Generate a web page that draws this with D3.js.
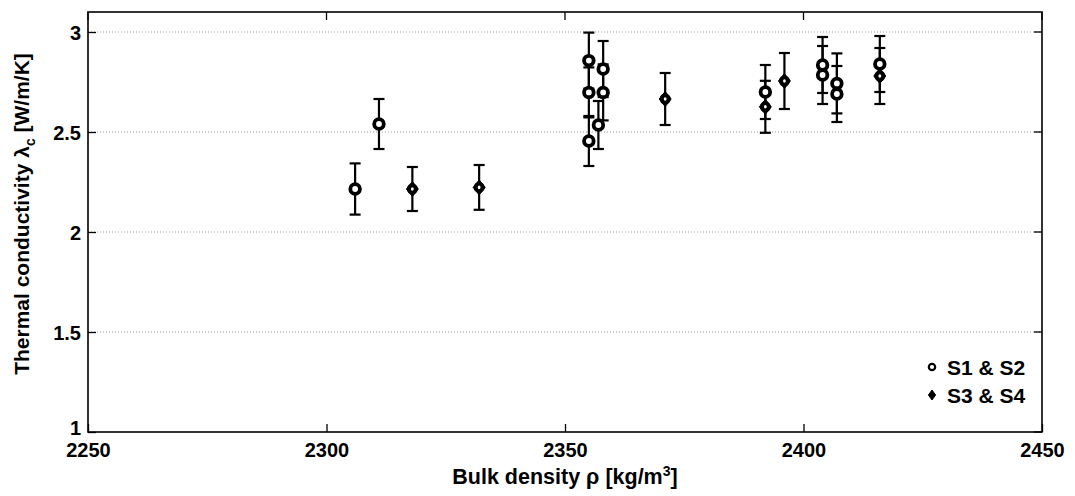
<!DOCTYPE html>
<html><head><meta charset="utf-8">
<script src="https://cdn.jsdelivr.net/npm/d3@7"></script>
<style>
html,body{margin:0;padding:0;background:#fff;}
text{font-family:"Liberation Sans",Arial,sans-serif;font-weight:bold;fill:#000;}
</style></head>
<body><svg id="c" width="1075" height="496"></svg>
<script>
// ---- data ----
const xTicks = [2250, 2300, 2350, 2400, 2450];
const yTicks = [1, 1.5, 2, 2.5, 3];
const yTickLabels = ["1", "1.5", "2", "2.5", "3"];
const gridValues = [1.5, 2, 2.5, 3];
const seriesNames = ["S1 & S2", "S3 & S4"];
const s12X   = [2306, 2311, 2355, 2355, 2355, 2357, 2358, 2358, 2392, 2404, 2404, 2407, 2407, 2416];
const s12Y   = [2.215, 2.54, 2.857, 2.698, 2.455, 2.535, 2.815, 2.698, 2.70, 2.835, 2.785, 2.743, 2.69, 2.84];
const s12Err = [0.128, 0.125, 0.14, 0.125, 0.125, 0.12, 0.14, 0.14, 0.135, 0.14, 0.145, 0.15, 0.14, 0.14];
const s34X   = [2318, 2332, 2371, 2392, 2396, 2416];
const s34Y   = [2.215, 2.223, 2.665, 2.626, 2.755, 2.78];
const s34Err = [0.11, 0.112, 0.13, 0.13, 0.14, 0.14];

const svg = d3.select("#c");
const L = 88, R = 1042, T = 12, B = 432;
const x = d3.scaleLinear().domain([2250, 2450]).range([L, R]);
const y = d3.scaleLinear().domain([1, 3.1]).range([B, T]);

// grid
svg.append("g").selectAll("line").data(gridValues).join("line")
  .attr("x1", L).attr("x2", R).attr("y1", d => y(d)).attr("y2", d => y(d))
  .attr("stroke", "#999").attr("stroke-width", 1).attr("stroke-dasharray", "1,2");

// axes
const xAxis = d3.axisBottom(x).tickValues(xTicks).tickSizeInner(-8).tickSizeOuter(0).tickPadding(14).tickFormat(d3.format("d"));
const gx = svg.append("g").attr("transform", `translate(0,${B})`).call(xAxis);
const yAxis = d3.axisLeft(y).tickValues(yTicks).tickSizeInner(-8).tickSizeOuter(0).tickPadding(7).tickFormat((d,i) => yTickLabels[i]);
const gy = svg.append("g").attr("transform", `translate(${L},0)`).call(yAxis);
[gx, gy].forEach(g => {
  g.select(".domain").remove();
  g.selectAll(".tick line").attr("stroke", "#000").attr("stroke-width", 1.3);
  g.selectAll("text").style("font-size", "20px").style("font-weight", "bold")
   .style("font-family", '"Liberation Sans",Arial,sans-serif').attr("fill", "#000");
});
gx.selectAll(".tick text").attr("dy", "0.55em");
gy.selectAll(".tick text").attr("dy", (d) => d === 1 ? "0.1em" : "0.35em");
// top/right ticks
svg.append("g").selectAll("line").data(xTicks).join("line")
  .attr("x1", d => x(d)).attr("x2", d => x(d)).attr("y1", T).attr("y2", T + 8)
  .attr("stroke", "#000").attr("stroke-width", 1.3);
svg.append("g").selectAll("line").data(yTicks).join("line")
  .attr("x1", R - 8).attr("x2", R).attr("y1", d => y(d)).attr("y2", d => y(d))
  .attr("stroke", "#000").attr("stroke-width", 1.3);
// box
svg.append("rect").attr("x", L).attr("y", T).attr("width", R - L).attr("height", B - T)
  .attr("fill", "none").attr("stroke", "#000").attr("stroke-width", 1.6);

// error bars
function errBars(xs, ys, es) {
  const g = svg.append("g").attr("stroke", "#000").attr("stroke-width", 2.2).attr("fill", "none");
  xs.forEach((xv, i) => {
    const cx = x(xv), y0 = y(ys[i] - es[i]), y1 = y(ys[i] + es[i]);
    g.append("line").attr("x1", cx).attr("x2", cx).attr("y1", y0).attr("y2", y1);
    g.append("line").attr("x1", cx - 5.5).attr("x2", cx + 5.5).attr("y1", y0).attr("y2", y0);
    g.append("line").attr("x1", cx - 5.5).attr("x2", cx + 5.5).attr("y1", y1).attr("y2", y1);
  });
}
errBars(s12X, s12Y, s12Err);
errBars(s34X, s34Y, s34Err);

function circleMark(g, cx, cy, r, sw) {
  g.append("circle").attr("cx", cx).attr("cy", cy).attr("r", r)
    .attr("fill", "#fff").attr("stroke", "#000").attr("stroke-width", sw);
}
function diamondMark(g, cx, cy, hw, hh, hole) {
  g.append("path").attr("d", `M${cx},${cy-hh}L${cx+hw},${cy}L${cx},${cy+hh}L${cx-hw},${cy}Z`)
    .attr("fill", "#000").attr("stroke", "#000").attr("stroke-width", 1);
  if (hole) g.append("ellipse").attr("cx", cx).attr("cy", cy).attr("rx", 1.4).attr("ry", 1.8).attr("fill", "#fff");
}
const gm = svg.append("g");
s12X.forEach((xv, i) => circleMark(gm, x(xv), y(s12Y[i]), 4.8, 3.8));
s34X.forEach((xv, i) => {
  circleMark(gm, x(xv), y(s34Y[i]), 4.0, 3);
  diamondMark(gm, x(xv), y(s34Y[i]), 6, 7.5, true);
});

// legend
const lg = svg.append("g");
circleMark(lg, 932, 367, 3.2, 2.2);
lg.append("text").attr("x", 947).attr("y", 367).attr("dy", "0.36em").style("font-size", "21px").text(seriesNames[0]);
diamondMark(lg, 932, 395, 3.6, 5, false);
lg.append("text").attr("x", 947).attr("y", 395).attr("dy", "0.36em").style("font-size", "21px").text(seriesNames[1]);

// axis titles
const xt = svg.append("text").attr("x", (L + R) / 2).attr("y", 484).attr("text-anchor", "middle").style("font-size", "21.5px");
xt.append("tspan").text("Bulk density ρ [kg/m");
xt.append("tspan").attr("dy", -8).style("font-size", "14px").text("3");
xt.append("tspan").attr("dy", 8).text("]");

const yt = svg.append("text").attr("transform", `translate(29,214) rotate(-90)`).attr("text-anchor", "middle").style("font-size", "21px");
yt.append("tspan").text("Thermal conductivity λ");
yt.append("tspan").attr("dy", 6).style("font-size", "14px").text("c");
yt.append("tspan").attr("dy", -6).text(" [W/m/K]");
</script></body></html>
